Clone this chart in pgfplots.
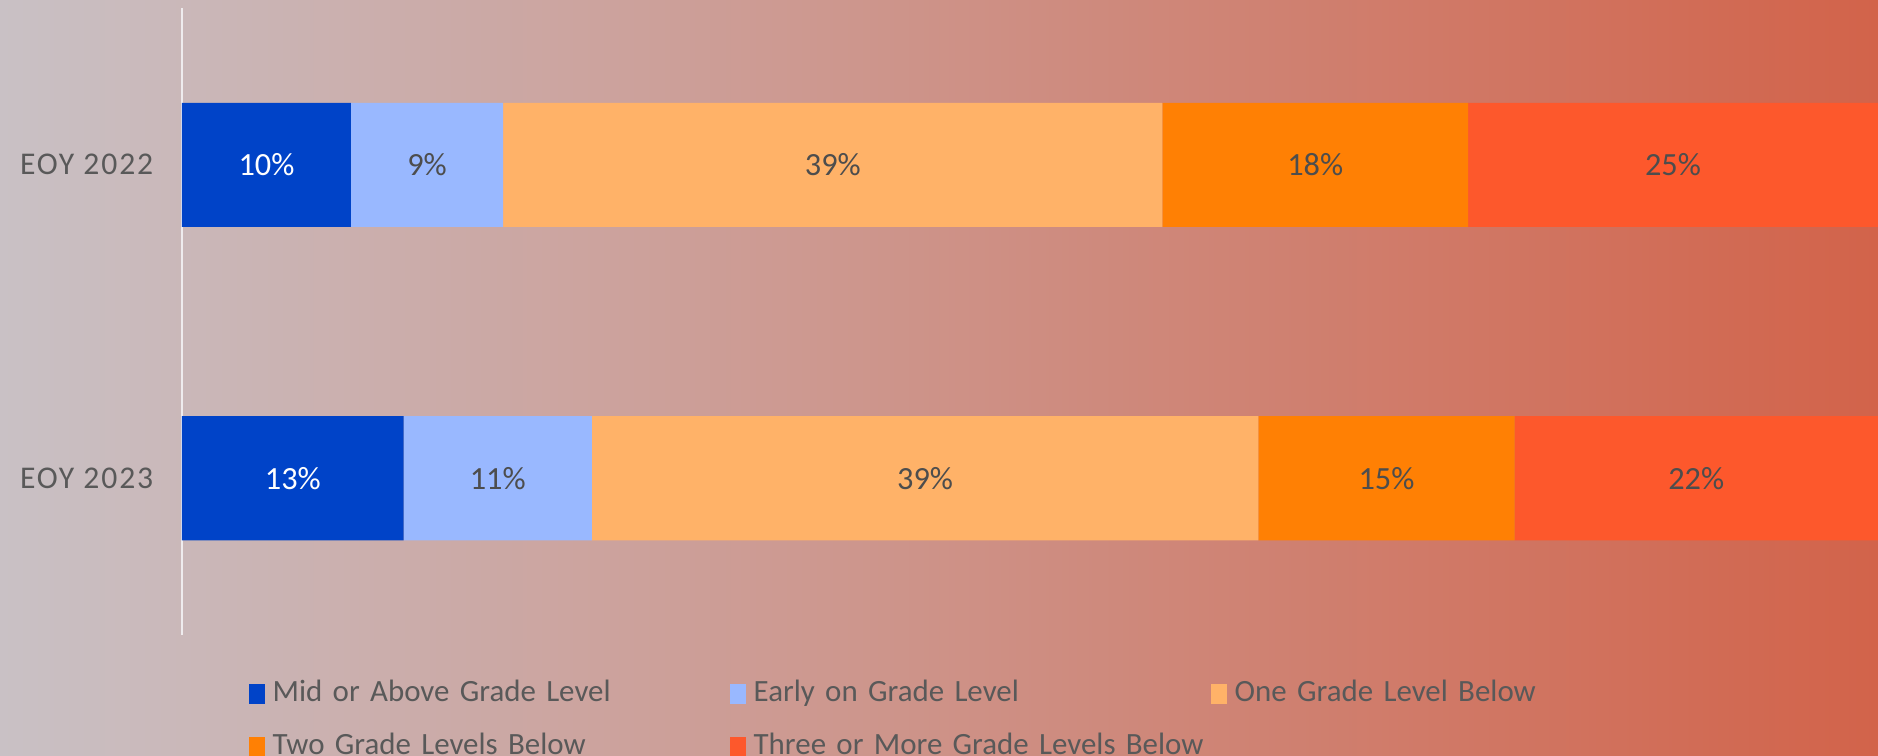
\documentclass[border=0pt]{standalone}
\usepackage{fontspec}
\setmainfont{Carlito}
\newfontfamily\tickfont[LetterSpace=6]{Carlito}
\usepackage{pgfplots}
\pgfplotsset{compat=1.18}

\definecolor{bgL}{HTML}{C9C1C5}
\definecolor{bgR}{HTML}{D2634A}
\definecolor{cMid}{HTML}{0043C8}
\definecolor{cEarly}{HTML}{99B8FF}
\definecolor{cOne}{HTML}{FFB268}
\definecolor{cTwo}{HTML}{FF8004}
\definecolor{cThree}{HTML}{FD582C}
\definecolor{txt}{HTML}{595959}
\definecolor{lbl}{HTML}{4D4D4D}

\begin{document}
\begin{tikzpicture}
\path[use as bounding box] (0,0) rectangle (187.8mm,75.6mm);
\clip (0,0) rectangle (187.8mm,75.6mm);
\shade[left color=bgL, right color=bgR] (0,0) rectangle (187.8mm,75.6mm);

\begin{axis}[
    at={(18.2mm,12.1mm)}, anchor=south west,
    scale only axis,
    width=169.6mm, height=62.7mm,
    xbar stacked, bar width=12.4mm,
    xmin=0, xmax=100, ymin=-0.5, ymax=1.5,
    axis x line=none,
    axis y line*=left,
    y axis line style={draw=white!70!bgL, line width=0.6pt},
    ytick={0,1}, yticklabels={EOY 2023, EOY 2022},
    major tick length=0pt,
    yticklabel style={font=\fontsize{9}{11}\tickfont, text=txt, inner xsep=0pt, xshift=-2.8mm},
    point meta=explicit symbolic,
    nodes near coords,
    every node near coord/.append style={anchor=center,
        font=\fontsize{9.2}{11}\selectfont, text=lbl},
    legend columns=3,
    legend cell align=left,
    legend image code/.code={\fill[#1] (0mm,-1mm) rectangle (1.6mm,1mm);},
    legend style={at={(0.0389,-0.070)}, anchor=north west, draw=none, fill=none,
        inner sep=0pt, row sep=2.4mm,
        font=\fontsize{8.8}{11}\selectfont, text=txt,
        nodes={text width=45.3mm, align=left, inner sep=0pt, text height=2.2mm, text depth=0.7mm},
        /tikz/every odd column/.append style={column sep=0.8mm},
        /tikz/every even column/.append style={column sep=0.4mm}},
]
\addplot[fill=cMid, draw=none, every node near coord/.append style={text=white}] coordinates {
    (9.96,1) [10\%]
    (13.07,0) [13\%]
};
\addlegendentry{Mid or Above Grade Level}
\addplot[fill=cEarly, draw=none] coordinates {
    (8.98,1) [9\%]
    (11.10,0) [11\%]
};
\addlegendentry{Early on Grade Level}
\addplot[fill=cOne, draw=none] coordinates {
    (38.87,1) [39\%]
    (39.29,0) [39\%]
};
\addlegendentry{One Grade Level Below}
\addplot[fill=cTwo, draw=none] coordinates {
    (18.02,1) [18\%]
    (15.12,0) [15\%]
};
\addlegendentry{Two Grade Levels Below}
\addplot[fill=cThree, draw=none] coordinates {
    (24.17,1) [25\%]
    (21.41,0) [22\%]
};
\addlegendentry{Three or More Grade Levels Below}
\end{axis}
\end{tikzpicture}
\end{document}
